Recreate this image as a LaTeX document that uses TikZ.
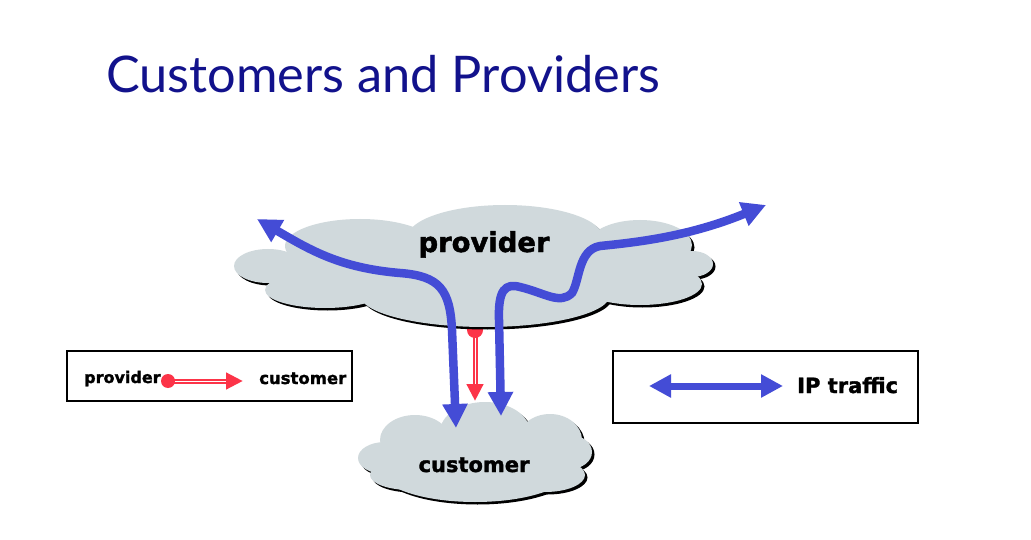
\documentclass[tikz,border=0pt]{standalone}
\usepackage{fontspec}
\usepackage{tikz}
\usetikzlibrary{arrows.meta,positioning}
\newfontfamily\titlefont{Lato}
\newfontfamily\keyfont{DejaVu Sans}[BoldFeatures={FakeBold=1.6}]
\definecolor{cpblue}{RGB}{68,76,214}
\definecolor{cpred}{RGB}{252,52,72}
\definecolor{cpgray}{RGB}{208,217,220}
\definecolor{cptitle}{RGB}{18,18,140}
\tikzstyle{traffic} = [line width=8.5pt, color=cpblue, {Triangle[length=24pt,width=24pt]}-{Triangle[length=24pt,width=24pt]}]
\tikzstyle{keytraffic} = [line width=7pt, color=cpblue, {Triangle[length=22pt,width=22pt]}-{Triangle[length=22pt,width=22pt]}]
\tikzstyle{relation} = [line width=5pt, color=cpred, -{Triangle[length=17pt,width=16pt]}]
\tikzstyle{relcore} = [line width=1pt, color=white]
\tikzstyle{reldot} = [circle, fill=cpred, inner sep=0pt, minimum size=16pt]
\tikzstyle{cloudshadow} = [fill=black]
\tikzstyle{cloudbody} = [fill=cpgray]
\tikzstyle{cloudlabel} = [inner sep=0pt, anchor=base]
\tikzstyle{keylabel} = [inner sep=0pt, anchor=base west]
\tikzstyle{keybox} = [draw=black, line width=1.2pt, inner sep=0pt]

\begin{document}
\begin{tikzpicture}[x=1pt, y=-1pt]
\path[use as bounding box, fill=white] (0,0) rectangle (1031,540);

% Title
\node[anchor=base west, inner sep=0pt, text=cptitle, font=\titlefont\fontsize{50.5}{58}\selectfont] (title) at (106,93) {Customers and Providers};

% Provider -> customer relation (behind the cloud)
\node[reldot] (pdot) at (475,330) {};
\coordinate (ctip) at (475,401);
\draw[relation] (pdot.center) -- (ctip);
\draw[relcore, shorten >=17pt] (pdot.south) -- (ctip);

% Provider cloud
\foreach \cx/\cy/\rx/\ry in {505/238/98/33, 360/246/75/27, 640/245/52/25, 268/266/34/17, 692/264/21/13, 325/290/60/18, 485/295/125/32, 640/284/62/21, 480/265/190/35, 660/262/30/15}
  \fill[cloudshadow] (\cx+2.5,\cy+2.5) ellipse [x radius=\rx pt, y radius=\ry pt];
\foreach \cx/\cy/\rx/\ry in {505/238/98/33, 360/246/75/27, 640/245/52/25, 268/266/34/17, 692/264/21/13, 325/290/60/18, 485/295/125/32, 640/284/62/21, 480/265/190/35, 660/262/30/15}
  \fill[cloudbody] (\cx,\cy) ellipse [x radius=\rx pt, y radius=\ry pt];
\node[cloudlabel, font=\keyfont\bfseries\fontsize{27.4}{30}\selectfont] (provider) at (484,252) {provider};

% Customer cloud
\foreach \cx/\cy/\rx/\ry in {485/432/45/30, 415/440/35/25, 550/440/32/26, 385/458/27/16, 570/452/22/17, 475/470/95/32, 410/475/40/15, 545/475/40/17}
  \fill[cloudshadow] (\cx+2.5,\cy+2.5) ellipse [x radius=\rx pt, y radius=\ry pt];
\foreach \cx/\cy/\rx/\ry in {485/432/45/30, 415/440/35/25, 550/440/32/26, 385/458/27/16, 570/452/22/17, 475/470/95/32, 410/475/40/15, 545/475/40/17}
  \fill[cloudbody] (\cx,\cy) ellipse [x radius=\rx pt, y radius=\ry pt];
\node[cloudlabel, font=\keyfont\bfseries\fontsize{21}{24}\selectfont] (customer) at (474,472) {customer};

% IP traffic
\coordinate (ptl) at (257,219);
\coordinate (cl) at (456,428);
\coordinate (cr) at (501,416);
\coordinate (ptr) at (766,205);
\draw[traffic] (ptl) .. controls (310,250) and (340,268) .. (400,273) .. controls (440,276) and (450,290) .. (452,330) -- (cl);
\draw[traffic] (cr) -- (499,320) .. controls (498,290) and (505,283) .. (520,287) .. controls (545,293) and (560,305) .. (572,293) .. controls (580,280) and (578,250) .. (600,246) .. controls (640,242) and (690,236) .. (ptr);

% Key: relation
\node[keybox, minimum width=285pt, minimum height=50pt] (relkey) at (209.5,376) {};
\node[keylabel, font=\keyfont\bfseries\fontsize{16}{18}\selectfont] (kprov) at (84,383) {provider};
\node[keylabel, font=\keyfont\bfseries\fontsize{16.5}{18}\selectfont] (kcust) at (259,384) {customer};
\node[reldot, minimum size=14pt] (kdot) at (168,381) {};
\coordinate (ktip) at (243,381);
\draw[relation] (kdot.center) -- (ktip);
\draw[relcore, shorten >=17pt] (kdot.east) -- (ktip);

% Key: traffic
\node[keybox, minimum width=305pt, minimum height=72pt] (ipkey) at (765.5,387) {};
\coordinate (ipl) at (649,386);
\coordinate (ipr) at (783,386);
\draw[keytraffic] (ipl) -- (ipr);
\node[keylabel, font=\keyfont\bfseries\fontsize{21}{24}\selectfont] (iptext) at (797,393) {IP traffic};
\end{tikzpicture}
\end{document}
